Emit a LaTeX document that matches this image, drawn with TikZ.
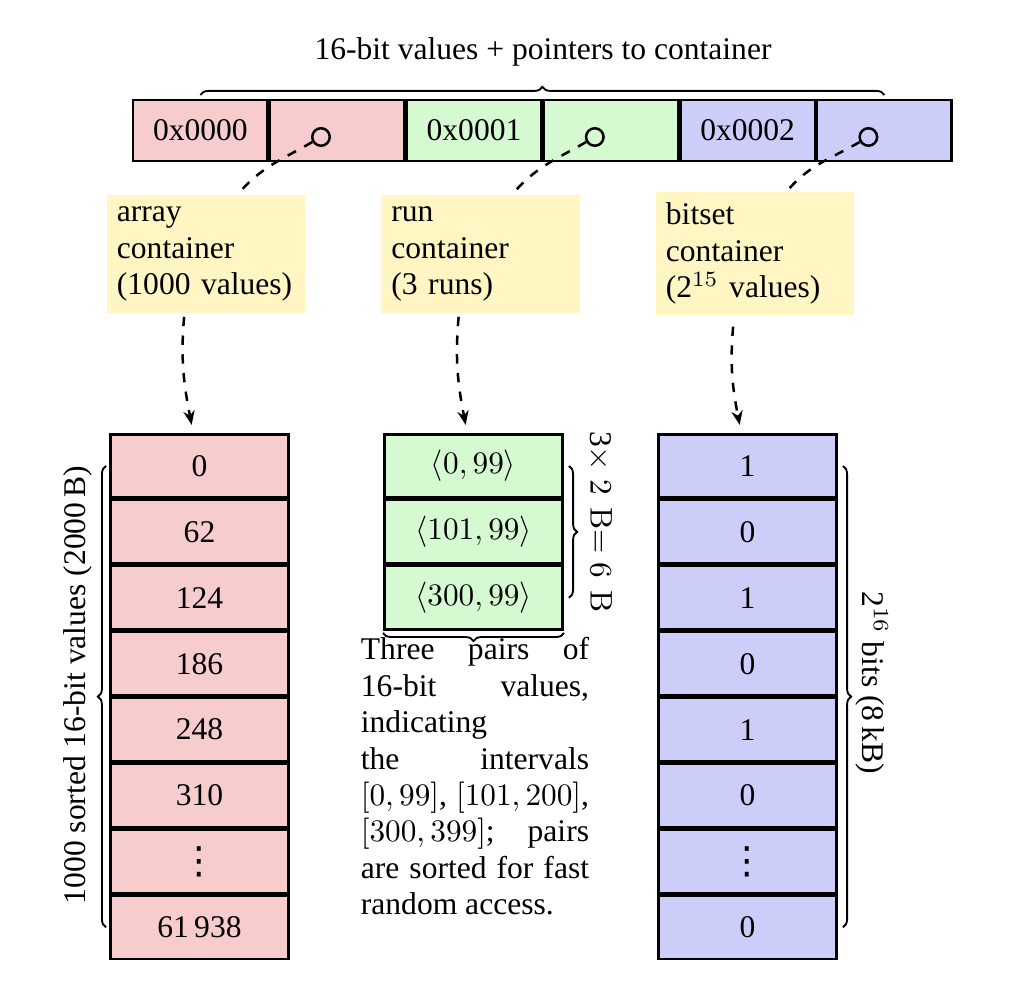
\documentclass[tikz,border=0pt]{standalone}
\usepackage[no-math]{fontspec}
\setmainfont{Liberation Serif}
\newfontfamily\dotsfont{DejaVu Sans}
\usetikzlibrary{decorations.pathreplacing,arrows.meta,calc}
\setlength\parindent{0pt}
\definecolor{cpink}{RGB}{246,204,204}
\definecolor{cgreen}{RGB}{213,250,210}
\definecolor{cblue}{RGB}{205,205,250}
\definecolor{cyellow}{RGB}{255,246,196}
\newcommand\myvdots{\raisebox{-4.3pt}{\dotsfont\fontsize{12}{12}\selectfont ⋮}}
\begin{document}
\begin{tikzpicture}[x=0.32pt,y=0.32pt,
  every node/.style={font=\fontsize{10.1}{11.65}\selectfont},
  keycell/.style={draw,line width=0.8pt,minimum width=43pt,minimum height=19.4pt,inner sep=0pt},
  colcell/.style={draw,line width=0.8pt,minimum width=57.1pt,minimum height=20.3pt,inner sep=0pt},
  ptr/.style={draw,circle,line width=0.8pt,minimum size=5.6pt,inner sep=0pt},
  infobox/.style={fill=cyellow,text width=57pt,align=left,inner xsep=3.2pt,minimum height=37.8pt},
  ptrline/.style={dashed,line width=0.8pt},
  arr/.style={dashed,line width=0.8pt,-{Stealth[length=4.5pt,width=3.6pt]}},
  brc/.style={decorate,decoration={brace,amplitude=2.6pt},line width=0.6pt},
]
\useasboundingbox (0,0) rectangle (1010,992);

% key row
\node[keycell,fill=cpink]  (k0) at (200.4,861.5) {0x0000};
\node[keycell,fill=cpink]  (q0) at (337.2,861.5) {};
\node[keycell,fill=cgreen] (k1) at (474,861.5) {0x0001};
\node[keycell,fill=cgreen] (q1) at (610.8,861.5) {};
\node[keycell,fill=cblue]  (k2) at (747.6,861.5) {0x0002};
\node[keycell,fill=cblue]  (q2) at (884.4,861.5) {};

\node[ptr] (c0) at (321,855) {};
\node[ptr] (c1) at (594.8,855) {};
\node[ptr] (c2) at (868.4,855) {};

\draw[brc] (200.4,897) -- (884.4,897);
\node (title) at (543,940) {16-bit values + pointers to container};

% container labels
\node[infobox] (b0) at (206,738) {array\\container\\(1000 values)};
\node[infobox] (b1) at (480.5,738) {run\\container\\(3 runs)};
\node[infobox,minimum height=39.4pt] (b2) at (755,738.5) {bitset\\container\\(2$^{15}$ values)};

\draw[ptrline] (c0) to[out=-150,in=50] ($(b0.north west)!0.66!(b0.north east)$);
\draw[ptrline] (c1) to[out=-150,in=50] ($(b1.north west)!0.66!(b1.north east)$);
\draw[ptrline] (c2) to[out=-150,in=50] ($(b2.north west)!0.66!(b2.north east)$);

% array container
\foreach \t [count=\i from 0] in {0,62,124,186,248,310,\myvdots,61\,938}
  \node[colcell,fill=cpink] (a\i) at (199.5,{526-65.9*\i}) {\t};
% run container
\foreach \t [count=\i from 0] in {{$\langle 0,99\rangle$},{$\langle 101,99\rangle$},{$\langle 300,99\rangle$}}
  \node[colcell,fill=cgreen] (r\i) at (473.5,{526-65.9*\i}) {\t};
% bitset container
\foreach \t [count=\i from 0] in {1,0,1,0,1,0,\myvdots,0}
  \node[colcell,fill=cblue] (s\i) at (747.5,{526-65.9*\i}) {\t};

\draw[arr] ([xshift=-7pt,yshift=-1pt]b0.south) to[out=-95,in=101] ([xshift=-2.5pt,yshift=2.6pt]a0.north);
\draw[arr] ([xshift=-7pt,yshift=-1pt]b1.south) to[out=-95,in=101] ([xshift=-2.5pt,yshift=2.6pt]r0.north);
\draw[arr] ([xshift=-7pt,yshift=-3.5pt]b2.south) to[out=-95,in=101] ([xshift=-2.5pt,yshift=2.6pt]s0.north);

% braces and notes
\draw[brc] (106,64.7) -- (106,526);
\node[rotate=90] (alab) at (78,307) {1000 sorted 16-bit values (2000\,B)};

\draw[brc] (569,526) -- (569,394.2);
\node[rotate=-90] (rlab) at (600,470) {3$\times$ $2\ \,\mathrm{B}$$=$ $6\ \,\mathrm{B}$};

\draw[brc] (564,359) -- (383,359);
\node[text width=73pt,align=justify,inner sep=0pt,anchor=north] (desc) at (475,355)
  {Three pairs of\linebreak 16-bit values,\linebreak indicating\linebreak the intervals\linebreak $[0,99]$, $[101,200]$,\linebreak $[300,399]$; pairs\linebreak are sorted for fast\linebreak random access.};

\draw[brc] (843,526) -- (843,64.7);
\node[rotate=-90] (slab) at (872,309) {2$^{16}$ bits (8\,kB)};
\end{tikzpicture}
\end{document}
